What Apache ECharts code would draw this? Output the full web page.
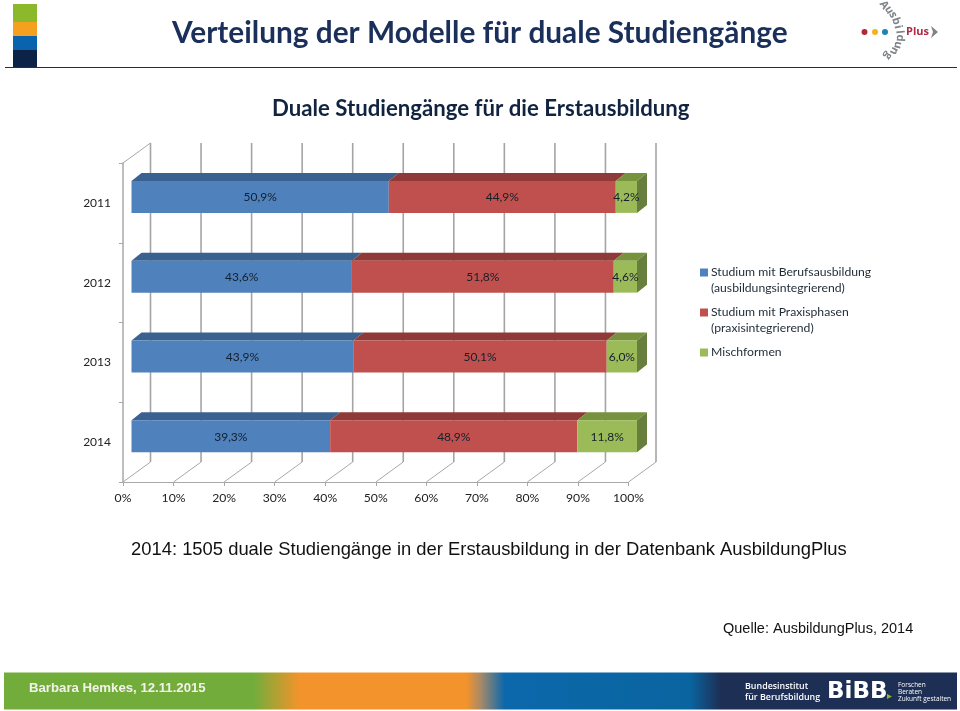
<!DOCTYPE html>
<html><head><meta charset="utf-8">
<style>html,body{margin:0;padding:0;background:#fff}#c{width:960px;height:711px}</style>
<script src="https://cdn.jsdelivr.net/npm/echarts@6/dist/echarts.min.js"></script>
</head><body><div id="c"></div>
<script>
const years = ['2011','2012','2013','2014'];
const integrated = [50.9,43.6,43.9,39.3];
const phases = [44.9,51.8,50.1,48.9];
const mixed = [4.2,4.6,6.0,11.8];
const gridTicks = [0,10,20,30,40,50,60,70,80,90,100];
const legendNames = ['Studium mit Berufsausbildung','Studium mit Praxisphasen','Mischformen'];

const fmt = v => v.toFixed(1).replace('.',',') + '%';
const CAL = 'Lato, "Open Sans", sans-serif';
const AX = '#a8a8a8';
const WALL = {dx:27.5, dy:-20};
const BAR = {dx:8.5, dy:-6, h:32, ddx:10, ddy:-8};

function poly(points, fill){ return {type:'polygon', shape:{points}, style:{fill}}; }

function barRenderer(front, top, side){
  return function(params, api){
    const a = api.coord([api.value(1), api.value(0)]);
    const b = api.coord([api.value(2), api.value(0)]);
    const x0 = a[0]+BAR.dx, x1 = b[0]+BAR.dx;
    const y0 = a[1]+BAR.dy-BAR.h/2, y1 = y0+BAR.h;
    const kids = [
      poly([[x0,y0],[x0+BAR.ddx,y0+BAR.ddy],[x1+BAR.ddx,y0+BAR.ddy],[x1,y0]], top)
    ];
    if(side) kids.push(poly([[x1,y0],[x1+BAR.ddx,y0+BAR.ddy],[x1+BAR.ddx,y1+BAR.ddy],[x1,y1]], side));
    kids.push({type:'rect', shape:{x:x0,y:y0,width:x1-x0,height:BAR.h}, style:{fill:front}});
    kids.push({type:'text', style:{x:(x0+x1)/2, y:(y0+y1)/2+0.5, text:fmt(api.value(3)), fill:'#14202c',
      font:'12px '+CAL, align:'center', verticalAlign:'middle'}});
    return {type:'group', children:kids};
  };
}
function stackData(values, before){
  return values.map((v,i)=>{ const s = before.reduce((t,arr)=>t+arr[i],0); return [i,s,s+v,v]; });
}
function wallRenderer(params, api){
  const p = api.coord([api.value(0), 0]);
  const c = params.coordSys;
  const x = p[0], bot = c.y+c.height;
  const ls = {stroke:AX, lineWidth:1, fill:null};
  const kids = [
    {type:'line', shape:{x1:x,y1:bot,x2:x+WALL.dx,y2:bot+WALL.dy}, style:ls},
    {type:'line', shape:{x1:x+WALL.dx,y1:c.y+WALL.dy,x2:x+WALL.dx,y2:bot+WALL.dy}, style:{stroke:'#a4a4a4',lineWidth:1.6}}
  ];
  if(api.value(0)===0) kids.push({type:'line', shape:{x1:x,y1:c.y,x2:x+WALL.dx,y2:c.y+WALL.dy}, style:ls});
  return {type:'group', children:kids};
}
function barSeries(name, values, before, front, top, side){
  return {name, type:'custom', coordinateSystem:'cartesian2d', z:5, clip:false,
    itemStyle:{color:front}, data:stackData(values,before),
    encode:{x:[1,2],y:0}, renderItem:barRenderer(front,top,side)};
}
const navy = '#1b2f5b';
function T(x,y,text,font,fill,extra){ return Object.assign({type:'text',x,y,silent:true,
  style:{text,font,fill,align:'left',verticalAlign:'middle'}},extra||{}); }
function R(x,y,w,h,fill){ return {type:'rect',silent:true,shape:{x,y,width:w,height:h},style:{fill}}; }

// curved logo lettering
const arc = 'Ausbildung'.split('');
const arcPos = [[884,5,-55],[889,10,-60],[893,15,-65],[896,21,-72],[898,27,-78],[899.5,32,-84],[900,38,-92],[898,45,-104],[894,51,-118],[888,56,-128]];
const arcEls = arc.map((ch,i)=>({type:'text',silent:true,x:arcPos[i][0],y:arcPos[i][1],rotation:arcPos[i][2]*Math.PI/180,
  style:{text:ch,font:'bold 11px "Open Sans", sans-serif',fill:'#7d8386',align:'center',verticalAlign:'middle'}}));

const footerGrad = {type:'linear',x:0,y:0,x2:1,y2:0,colorStops:[
  {offset:0,color:'#72ad3b'},{offset:.262,color:'#72ad3b'},{offset:.31,color:'#f3932b'},
  {offset:.485,color:'#f3932b'},{offset:.50,color:'#a98a68'},{offset:.525,color:'#0c68ab'},
  {offset:.72,color:'#0a649f'},{offset:.752,color:'#1d2f55'},{offset:1,color:'#1d2f55'}]};

const chart = echarts.init(document.getElementById('c'),null,{renderer:'canvas'});
chart.setOption({
  animation:false, backgroundColor:'#fff',
  grid:{left:123,top:163,width:505.5,height:319,containLabel:false},
  xAxis:{type:'value',min:0,max:100,interval:10,
    axisLine:{show:true,lineStyle:{color:AX,width:1}},
    axisTick:{show:true,length:4,lineStyle:{color:AX}},
    splitLine:{show:false},
    axisLabel:{formatter:'{value}%',color:'#222',fontFamily:CAL,fontSize:12.2,margin:10}},
  yAxis:{type:'category',inverse:true,data:years,
    axisLine:{show:true,onZero:false,lineStyle:{color:AX,width:1.5}},
    axisTick:{show:true,length:4,alignWithLabel:false,lineStyle:{color:AX}},
    splitLine:{show:false},
    axisLabel:{color:'#222',fontFamily:CAL,fontSize:12,margin:12,padding:[2,0,0,0]}},
  legend:{orient:'vertical',left:695,top:261.5,itemWidth:8,itemHeight:8,itemGap:28,icon:'rect',selectedMode:false,
    data:legendNames,textStyle:{color:'#1f2a36',fontFamily:CAL,fontSize:12.2,padding:[0,0,0,-2]}},
  series:[
    {type:'custom',coordinateSystem:'cartesian2d',z:1,clip:false,silent:true,data:gridTicks.map(v=>[v]),encode:{x:0},renderItem:wallRenderer},
    barSeries(legendNames[0],integrated,[],'#4f81bd','#3a6291',null),
    barSeries(legendNames[1],phases,[integrated],'#c0504d','#8f3a38',null),
    barSeries(legendNames[2],mixed,[integrated,phases],'#9bbb59','#76923c','#687e3d')
  ],
  graphic:{elements:[
    R(13,4,24,18,'#8cb82b'),R(13,22,24,14,'#f5a11f'),R(13,36,24,14,'#0a63ad'),R(13,50,24,17,'#0b2347'),
    R(5,67,952,1,'#1f2d50'),
    T(172,33.5,'Verteilung der Modelle für duale Studiengänge','bold 29.8px '+CAL,navy),
    T(272,108.5,'Duale Studiengänge für die Erstausbildung','bold 22.2px '+CAL,'#10233f'),
    {type:'circle',silent:true,shape:{cx:864.5,cy:32,r:3},style:{fill:'#b02a37'}},
    {type:'circle',silent:true,shape:{cx:875,cy:32,r:3},style:{fill:'#f7b21b'}},
    {type:'circle',silent:true,shape:{cx:885,cy:32,r:3},style:{fill:'#1a83b8'}},
    T(906,32,'Plus','bold 11px "Open Sans", sans-serif','#b02a44'),
    {type:'polygon',silent:true,shape:{points:[[931,26],[938,32],[931,38],[933,32]]},style:{fill:'#7d8386'}},
    ...arcEls,
    T(711,288.5,'(ausbildungsintegrierend)','12.2px '+CAL,'#1f2a36'),
    T(711,328.5,'(praxisintegrierend)','12.2px '+CAL,'#1f2a36'),
    T(131,549.5,'2014: 1505 duale Studiengänge in der Erstausbildung in der Datenbank AusbildungPlus','18.4px "Liberation Sans", sans-serif','#111'),
    T(723,628.5,'Quelle: AusbildungPlus, 2014','14.5px "Liberation Sans", sans-serif','#111'),
    {type:'rect',silent:true,shape:{x:4,y:672.5,width:953,height:37},style:{fill:footerGrad}},
    T(29,688,'Barbara Hemkes, 12.11.2015','bold 13.2px "Liberation Sans", sans-serif','#f2f2e8'),
    T(745,686,'Bundesinstitut','600 8.9px "Open Sans", sans-serif','#fff'),
    T(745,697,'für Berufsbildung','600 8.9px "Open Sans", sans-serif','#fff'),
    T(827,692,'BiBB','bold 23px "DejaVu Sans", sans-serif','#fff'),
    {type:'polygon',silent:true,shape:{points:[[887,694],[892,696.5],[887,699]]},style:{fill:'#8cb82b'}},
    T(898,685,'Forschen','6.5px "Open Sans", sans-serif','#fff'),
    T(898,692,'Beraten','6.5px "Open Sans", sans-serif','#fff'),
    T(898,699,'Zukunft gestalten','6.5px "Open Sans", sans-serif','#fff')
  ]}
});
</script></body></html>
